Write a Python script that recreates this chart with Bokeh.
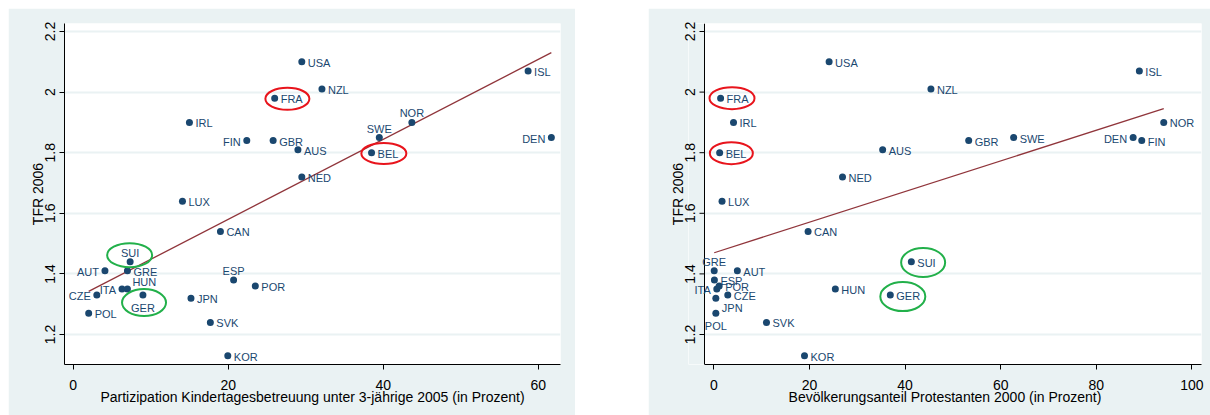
import numpy as np
from bokeh.plotting import figure
from bokeh.models import ColumnDataSource, FixedTicker, Spacer, Label, BoxAnnotation, Range1d, Span
from bokeh.layouts import row, column
from bokeh.embed import file_html
from bokeh.resources import INLINE

# ---------------- data ----------------
countries = ["USA", "NZL", "FRA", "IRL", "FIN", "GBR", "AUS", "NED", "SWE", "NOR",
             "BEL", "ISL", "DEN", "LUX", "CAN", "SUI", "AUT", "GRE", "ITA", "HUN",
             "CZE", "GER", "POL", "JPN", "ESP", "POR", "SVK", "KOR"]
tfr_2006 = [2.10, 2.01, 1.98, 1.90, 1.84, 1.84, 1.81, 1.72, 1.85, 1.90,
            1.80, 2.07, 1.85, 1.64, 1.54, 1.44, 1.41, 1.41, 1.35, 1.35,
            1.33, 1.33, 1.27, 1.32, 1.38, 1.36, 1.24, 1.13]
childcare_2005 = [29.5, 32.1, 26.0, 15.0, 22.4, 25.8, 29.0, 29.5, 39.5, 43.7,
                  38.5, 58.7, 61.7, 14.1, 19.0, 7.35, 4.1, 7.0, 6.3, 7.0,
                  3.05, 9.0, 2.0, 15.2, 20.7, 23.5, 17.7, 19.95]
protestant_2000 = [24.1, 45.4, 1.4, 4.1, 89.5, 53.3, 35.3, 26.9, 62.7, 94.1,
                   1.2, 89.0, 87.7, 1.7, 19.7, 41.3, 4.9, 0.06, 0.6, 25.4,
                   2.9, 36.9, 0.4, 0.4, 0.1, 1.1, 11.0, 18.95]

# linear fits (intercept, slope)
fit_left = [1.316, 0.0132]
fit_right = [1.4695, 0.00506]

y_ticks = [1.2, 1.4, 1.6, 1.8, 2.0, 2.2]
y_tick_labels = ["1.2", "1.4", "1.6", "1.8", "2", "2.2"]
x_ticks_left = [0, 20, 40, 60]
x_ticks_right = [0, 20, 40, 60, 80, 100]

xlabel_left = "Partizipation Kindertagesbetreuung unter 3-jährige 2005 (in Prozent)"
xlabel_right = "Bevölkerungsanteil Protestanten 2000 (in Prozent)"
ylabel = "TFR 2006"

highlighted = ["FRA", "BEL", "SUI", "GER"]

# ---------------- styles ----------------
NAVY = "#1A476F"
MAROON = "#90353B"
BG = "#EAF2F3"
RED = "#E8141C"
GREEN = "#22B04A"
FONT = "Liberation Sans"

# label clock positions (default 3 o'clock)
pos_left = {"FIN": 9, "DEN": 9, "AUT": 9, "ITA": 9, "CZE": 9,
            "SUI": 12, "ESP": 12, "SWE": 12, "NOR": 12, "GER": 6, "HUN": 1}
pos_right = {"ITA": 9, "DEN": 9, "GRE": 12, "POL": 6, "JPN": 4}
# (dx px right, dy px down, align) for a middle-baseline label
clock = {3: (6, 1, "left"), 9: (-6, 1, "right"), 12: (0, -9, "center"),
         6: (0, 13, "center"), 1: (5, -7, "left"), 4: (6, 10, "left")}

# ellipse styling: colour, dx px, dy px, w px, h px
ell_left = {"FRA": (RED, 12.7, 0.6, 44, 22), "BEL": (RED, 12.3, 0.7, 45, 21),
            "SUI": (GREEN, -0.5, -6.6, 45, 24), "GER": (GREEN, 1.1, 7.5, 44, 27)}
ell_right = {"FRA": (RED, 11.4, 0.0, 45, 22), "BEL": (RED, 11.7, 0.5, 43, 22),
             "SUI": (GREEN, 11.8, 0.7, 44, 29), "GER": (GREEN, 12.5, 1.5, 45, 29)}

Y_RANGE = (1.101, 2.2264)
FRAME_H = 341
TICK_LEN = 5
YLABEL_STANDOFF = 4


def make_panel(xvals, xlabel, xticks, xrange, frame_w, fit, positions, ells,
               border_left, border_right, pad=0):
    ppx = frame_w / (xrange[1] - xrange[0])
    ppy = FRAME_H / (Y_RANGE[1] - Y_RANGE[0])
    x_start = xrange[0] - pad / ppx
    p = figure(frame_width=frame_w + pad, frame_height=FRAME_H,
               x_range=Range1d(x_start, xrange[1]), y_range=Range1d(*Y_RANGE),
               output_backend="svg", toolbar_location=None,
               min_border_left=border_left - pad, min_border_right=border_right,
               min_border_top=15, min_border_bottom=51)
    p.background_fill_color = "white"
    p.border_fill_color = BG
    p.outline_line_color = None

    # grid
    p.xgrid.grid_line_color = None
    p.ygrid.grid_line_color = BG
    p.ygrid.grid_line_width = 2
    p.ygrid.ticker = FixedTicker(ticks=y_ticks)

    # axes
    p.xaxis.ticker = FixedTicker(ticks=xticks)
    p.yaxis.ticker = FixedTicker(ticks=y_ticks)
    p.yaxis.major_label_overrides = dict(zip(y_ticks, y_tick_labels))
    p.yaxis.major_label_orientation = "vertical"
    for ax in (p.xaxis[0], p.yaxis[0]):
        ax.axis_line_color = "black"
        ax.axis_line_width = 1
        ax.major_tick_line_color = "black"
        ax.major_tick_in = 0
        ax.major_tick_out = TICK_LEN
        ax.minor_tick_line_color = None
        ax.major_label_text_font = FONT
        ax.major_label_text_font_size = "14px"
        ax.major_label_text_color = "black"
        ax.axis_label_text_font = FONT
        ax.axis_label_text_font_size = "14px"
        ax.axis_label_text_font_style = "normal"
        ax.axis_label_text_color = "black"
    p.xaxis.axis_label = xlabel
    p.yaxis.axis_label = ylabel
    p.xaxis.major_label_standoff = 10
    p.xaxis.axis_label_standoff = -4
    p.yaxis.major_label_standoff = YLABEL_STANDOFF
    p.yaxis.axis_label_standoff = -3

    if pad:
        # grey strip left of the y axis, so point labels may overlap the axis
        p.add_layout(BoxAnnotation(right=xrange[0], fill_color=BG, fill_alpha=1,
                                   line_color=None, level="underlay"))
        p.xaxis.bounds = xrange
        # the frame-edge axis only carries the labels, shifted onto the axis
        p.yaxis.axis_line_color = None
        p.yaxis.major_tick_line_color = None
        p.yaxis.major_tick_out = 0
        p.yaxis.major_label_standoff = YLABEL_STANDOFF + TICK_LEN - pad
        # axis line and ticks at the real axis position
        p.add_layout(Span(location=xrange[0], dimension="height",
                          line_color="black", line_width=1, level="guide"))
        p.ray(x=[xrange[0]] * len(y_ticks), y=y_ticks, length=TICK_LEN,
              length_units="screen", angle=np.pi, line_color="black",
              line_width=1)

    # fit line over data extent
    x0, x1 = min(xvals), max(xvals)
    fx = [x0, x1]
    fy = [fit[0] + fit[1] * x0, fit[0] + fit[1] * x1]
    p.line(fx, fy, line_color=MAROON, line_width=1.3)

    # points
    src = ColumnDataSource(dict(x=xvals, y=tfr_2006, name=countries))
    p.scatter("x", "y", source=src, marker="circle", size=7,
              fill_color=NAVY, line_color=None)

    # labels
    for c, xv, yv in zip(countries, xvals, tfr_2006):
        dx, dy, a = clock[positions.get(c, 3)]
        p.add_layout(Label(x=xv, y=yv, text=c, x_offset=dx, y_offset=-dy,
                           text_align=a, text_baseline="middle",
                           text_font=FONT, text_font_size="11px",
                           text_color=NAVY))

    # highlight ellipses
    ex, ey, ew, eh, ec = [], [], [], [], []
    for c in highlighted:
        i = countries.index(c)
        col, dx, dy, w, h = ells[c]
        ex.append(xvals[i] + dx / ppx)
        ey.append(tfr_2006[i] - dy / ppy)
        ew.append(w); eh.append(h); ec.append(col)
    esrc = ColumnDataSource(dict(x=ex, y=ey, w=ew, h=eh, c=ec))
    p.ellipse(x="x", y="y", width="w", height="h", source=esrc,
              width_units="screen", height_units="screen",
              fill_color=None, line_color="c", line_width=2)
    return p


p1 = make_panel(childcare_2005, xlabel_left, x_ticks_left, (-1.12, 62.88), 496,
                fit_left, pos_left, ell_left, 56, 15)
p2 = make_panel(protestant_2000, xlabel_right, x_ticks_right, (-1.97, 102.0), 497,
                fit_right, pos_right, ell_right, 56, 9, pad=16)

layout = column(Spacer(height=8),
                row(Spacer(width=8), p1, Spacer(width=73), p2))
open("out.html", "w").write(file_html(layout, INLINE))
